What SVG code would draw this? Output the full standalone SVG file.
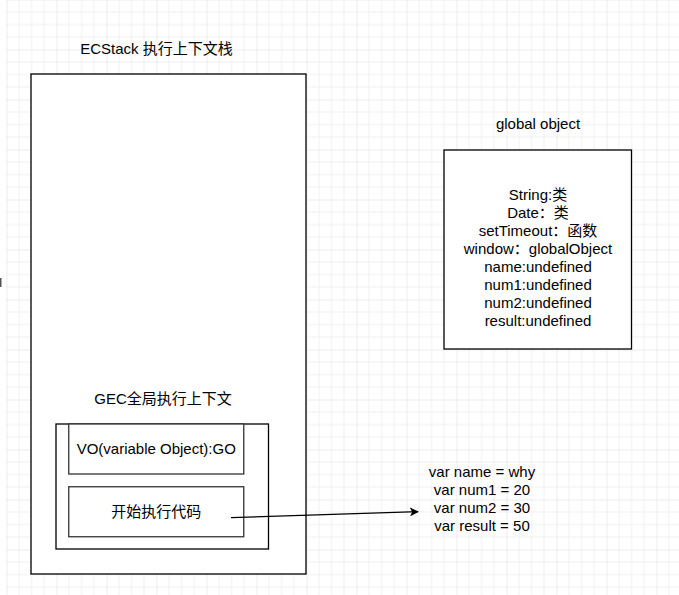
<svg xmlns="http://www.w3.org/2000/svg" width="679" height="595" viewBox="0 0 679 595">
  <style>
    .t { font-family: "Liberation Sans", "Noto Sans CJK SC", sans-serif; font-size: 15px; fill: #000; text-anchor: middle; }
    .box { fill: #fff; stroke: #000; stroke-width: 1.3; }
    .inner { fill: #fff; stroke: #333; stroke-width: 1.3; }
    .edge { fill: none; stroke: #000; stroke-width: 1.3; }
  </style>
  <defs>
    <pattern id="grid" patternUnits="userSpaceOnUse" x="6.5" y="-0.5" width="50" height="50">
      <path d="M12.5 0V50M25 0V50M37.5 0V50M0 12.5H50M0 25H50M0 37.5H50" stroke="#f0f0f0" stroke-width="1" fill="none"/>
      <path d="M0 0V50M0 0H50" stroke="#dcdcdc" stroke-width="1" fill="none"/>
    </pattern>
    <marker id="arrow" viewBox="0 0 10 10" refX="9" refY="5" markerWidth="9" markerHeight="9" markerUnits="userSpaceOnUse" orient="auto">
      <path d="M0 0L10 5L0 10L2.5 5Z" fill="#000"/>
    </marker>
  </defs>
  <rect x="0" y="0" width="679" height="595" fill="#fff"/>
  <rect x="6" y="0" width="673" height="595" fill="url(#grid)"/>
  <rect x="0" y="278" width="1.5" height="9" fill="#555"/>

  <g id="ecstack">
    <rect class="box" x="31" y="74" width="275" height="500"/>
    <text class="t" x="156.5" y="54">ECStack 执行上下文栈</text>
  </g>

  <g id="global-object">
    <text class="t" x="538" y="129">global object</text>
    <rect class="box" x="444" y="150" width="187.5" height="199"/>
    <text class="t" x="538" y="200">String:类</text>
    <text class="t" x="538" y="218">Date：类</text>
    <text class="t" x="538" y="236">setTimeout：函数</text>
    <text class="t" x="538" y="254">window：globalObject</text>
    <text class="t" x="538" y="272">name:undefined</text>
    <text class="t" x="538" y="290">num1:undefined</text>
    <text class="t" x="538" y="308">num2:undefined</text>
    <text class="t" x="538" y="326">result:undefined</text>
  </g>

  <g id="gec">
    <text class="t" x="163" y="404">GEC全局执行上下文</text>
    <rect class="box" x="56" y="424" width="212.5" height="125"/>
  </g>

  <g id="vo">
    <rect class="inner" x="68.75" y="424" width="175" height="50"/>
    <text class="t" x="156.25" y="454">VO(variable Object):GO</text>
  </g>

  <g id="exec">
    <rect class="inner" x="68.75" y="486.75" width="175" height="50"/>
    <text class="t" x="156.25" y="517">开始执行代码</text>
  </g>

  <g id="code">
    <text class="t" x="482" y="477">var name = why</text>
    <text class="t" x="482" y="495">var num1 = 20</text>
    <text class="t" x="482" y="513">var num2 = 30</text>
    <text class="t" x="482" y="531">var result = 50</text>
  </g>

  <g id="connectors">
    <path class="edge" d="M231 517.7L418 511.7" marker-end="url(#arrow)"/>
  </g>
</svg>
